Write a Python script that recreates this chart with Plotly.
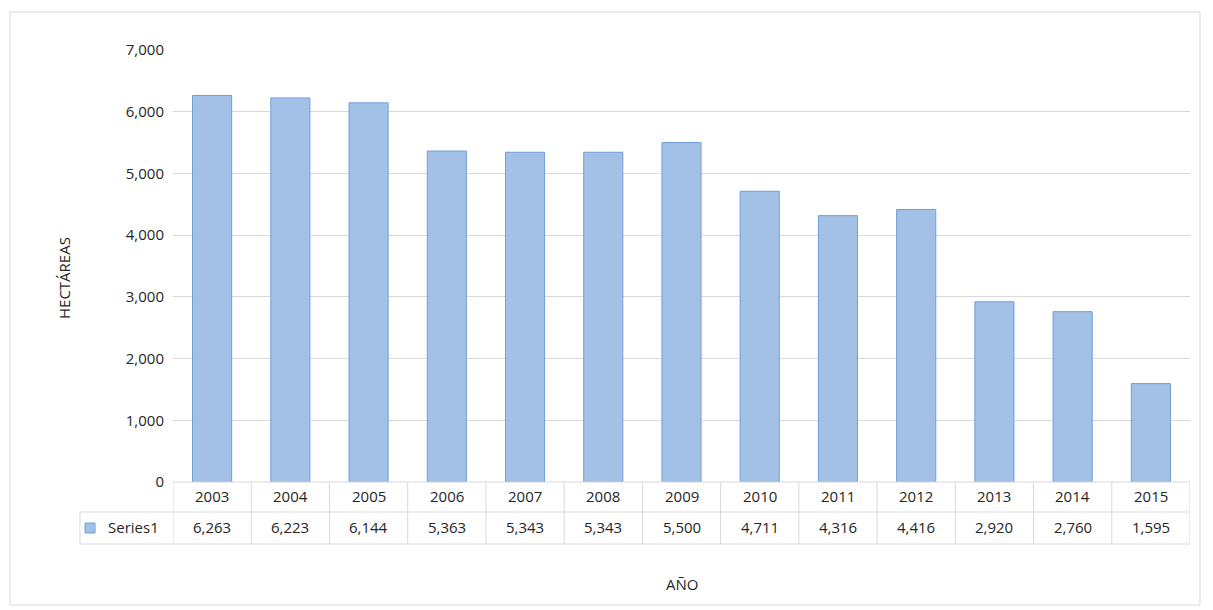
import plotly.graph_objects as go

years = ["2003", "2004", "2005", "2006", "2007", "2008", "2009",
         "2010", "2011", "2012", "2013", "2014", "2015"]
hectareas = [6263, 6223, 6144, 5363, 5343, 5343, 5500, 4711, 4316, 4416, 2920, 2760, 1595]
y_ticks = [0, 1000, 2000, 3000, 4000, 5000, 6000, 7000]

# page body adds an 8px offset, so work in shifted pixel coordinates
OFF = 8
W, H = 1213, 610
L, R, T, B = 173 - OFF, 23 + OFF, 50 - OFF, 128 + OFF
ph = H - T - B
pw = W - L - R


def py(pix):
    # screen pixel row -> paper y
    return (H - B - (pix - OFF)) / ph


def px(pix):
    return (pix - OFF - L) / pw


font = dict(family="Open Sans, Liberation Sans, sans-serif", size=15, color="#262626")
line_col = "#d9d9d9"

fig = go.Figure()
fig.add_trace(go.Bar(
    x=list(range(len(years))),
    y=hectareas,
    width=0.5,
    name="Series1",
    marker=dict(color="#a3c1e7", line=dict(color="#6f9fd8", width=1)),
    showlegend=False,
))

shapes = []
annotations = []
r1, r2, r3 = py(482), py(512), py(544)
shapes.append(dict(type="line", xref="paper", yref="paper", x0=0, x1=1, y0=r1, y1=r1,
                   line=dict(color=line_col, width=1)))
for yy in (r2, r3):
    shapes.append(dict(type="line", xref="paper", yref="paper", x0=px(80), x1=1, y0=yy, y1=yy,
                       line=dict(color=line_col, width=1)))
shapes.append(dict(type="line", xref="paper", yref="paper", x0=px(80), x1=px(80), y0=r2, y1=r3,
                   line=dict(color=line_col, width=1)))
for i in range(len(years) + 1):
    shapes.append(dict(type="line", xref="x", yref="paper", x0=i - 0.5, x1=i - 0.5, y0=r1, y1=r3,
                       line=dict(color=line_col, width=1)))
for i, (yr, v) in enumerate(zip(years, hectareas)):
    annotations.append(dict(x=i, y=py(508), xref="x", yref="paper", text=yr,
                            showarrow=False, font=font))
    annotations.append(dict(x=i, y=py(539), xref="x", yref="paper", text=f"{v:,}",
                            showarrow=False, font=font))
# legend key
shapes.append(dict(type="rect", xref="paper", yref="paper", x0=px(85), x1=px(95),
                   y0=py(533), y1=py(523), fillcolor="#a3c1e7", line=dict(color="#6f9fd8", width=1)))
annotations.append(dict(x=px(106), y=py(539), xref="paper", yref="paper", text="Series1",
                        xanchor="left", showarrow=False, font=font))
annotations.append(dict(x=0.5, y=py(596), xref="paper", yref="paper", text="AÑO",
                        showarrow=False, font=font))
annotations.append(dict(x=px(52), y=py(278), xref="paper", yref="paper", text="HECTÁREAS",
                        textangle=-90, showarrow=False, font=font))
# chart border
shapes.append(dict(type="rect", xref="paper", yref="paper", x0=px(10), x1=px(1200),
                   y0=py(605), y1=py(12), line=dict(color=line_col, width=1)))

fig.update_layout(
    width=W, height=H,
    margin=dict(l=L, r=R, t=T, b=B),
    plot_bgcolor="white", paper_bgcolor="white",
    font=font,
    shapes=shapes,
    annotations=annotations,
    xaxis=dict(range=[-0.5, len(years) - 0.5], showticklabels=False, showgrid=False,
               zeroline=False, showline=False, fixedrange=True),
    yaxis=dict(range=[0, 7000], tickvals=y_ticks, tickformat=",", gridcolor=line_col,
               zeroline=False, showline=False, ticks="", ticklabelstandoff=8, fixedrange=True),
)

fig.write_html("out.html")
